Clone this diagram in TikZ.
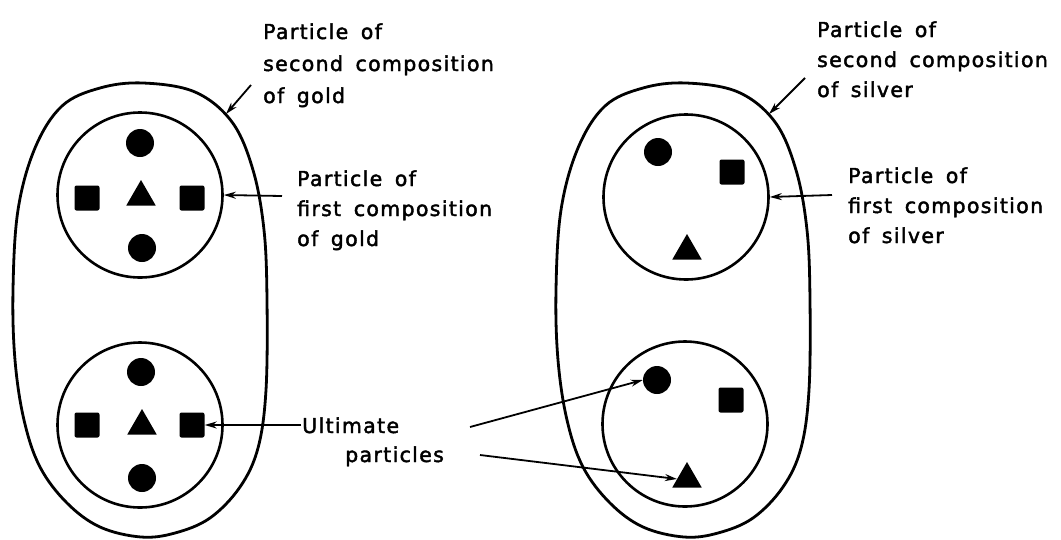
\documentclass[tikz,border=0pt]{standalone}
\usepackage{fontspec}
\setmainfont{DejaVu Sans}[LetterSpace=6.5,FakeBold=2,WordSpace=1.6]
\usetikzlibrary{shapes.geometric,arrows.meta}
\begin{document}
\begin{tikzpicture}[x=1pt,y=-1pt,
  outline/.style={line width=2.8pt},
  dot/.style={circle,fill,inner sep=0pt,minimum size=28pt},
  sq/.style={rectangle,fill,inner sep=0pt,minimum size=25pt,rounded corners=2pt},
  tri/.style={regular polygon,regular polygon sides=3,fill,inner sep=0pt,minimum size=34pt},
  ring/.style={circle,draw,line width=2.6pt,inner sep=0pt,minimum size=165pt},
  arr/.style={line width=1.8pt,-{Stealth[length=12pt,width=7pt]}},
  lab/.style={align=left,anchor=base west,inner sep=0pt,font=\fontsize{20.5}{30}\selectfont}]
\useasboundingbox (0,0) rectangle (1061,539);
% left outer particle (second composition of gold)
\draw[outline] plot[smooth cycle, tension=0.6] coordinates {(143,83) (195,92) (232,122) (253,170) (264,230) (267,300) (266,390) (258,448) (240,487) (210,518) (175,533) (141,537) (100,527) (67,503) (40,467) (24,420) (15,360) (13,290) (18,210) (35,148) (62,106) (100,88)};
% right outer particle (second composition of silver)
\begin{scope}[xshift=543pt]
\draw[outline] plot[smooth cycle, tension=0.6] coordinates {(143,83) (195,92) (232,122) (253,170) (264,230) (267,300) (266,390) (258,448) (240,487) (210,518) (175,533) (141,537) (100,527) (67,503) (40,467) (24,420) (15,360) (13,290) (18,210) (35,148) (62,106) (100,88)};
\end{scope}
% inner rings
\node[ring] (L1) at (140,195) {};
\node[ring] (L2) at (140,425) {};
\node[ring] (R1) at (686,197) {};
\node[ring] (R2) at (685,424) {};
% ultimate particles, left top
\node[dot] (L1d1) at (140,143) {};
\node[sq]  (L1s1) at (87,198) {};
\node[tri] (L1t)  at (141,197) {};
\node[sq]  (L1s2) at (192,198) {};
\node[dot] (L1d2) at (142,248) {};
% left bottom
\node[dot] (L2d1) at (141,372) {};
\node[sq]  (L2s1) at (87,425) {};
\node[tri] (L2t)  at (142,426) {};
\node[sq]  (L2s2) at (192,425) {};
\node[dot] (L2d2) at (142,478) {};
% right top
\node[dot] (R1d) at (658,152) {};
\node[sq]  (R1s) at (732,172) {};
\node[tri] (R1t) at (687,251) {};
% right bottom
\node[dot] (R2d) at (657,380) {};
\node[sq]  (R2s) at (731,400) {};
\node[tri] (R2t) at (687,479) {};
% labels (anchored at the baseline of the last line)
\node[lab,font=\fontsize{20.5}{32}\selectfont] (lg2) at (263,103) {Particle of\\second composition\\of gold};
\node[lab] (lg1) at (297,246) {Particle of\\first composition\\of gold};
\node[lab] (ls2) at (817,97) {Particle of\\second composition\\of silver};
\node[lab] (ls1) at (848,243) {Particle of\\first composition\\of silver};
\node[lab,font=\fontsize{20.5}{29}\selectfont] (ult) at (302,462) {Ultimate\\\hspace*{43pt}particles};
% connectors
\coordinate (oL) at (226,114);
\coordinate (oR) at (769,114);
\coordinate (sL) at (251,85);
\coordinate (sR) at (805,78);
\coordinate (fL) at (282,196);
\coordinate (fR) at (832,195);
\coordinate (uL) at (301,425);
\coordinate (u1) at (470,427);
\coordinate (u2) at (480,455);
\draw[arr] (sL) -- (oL);
\draw[arr] (sR) -- (oR);
\draw[arr] (fL) -- (L1.east);
\draw[arr] (fR) -- (R1.east);
\draw[arr] (uL) -- (L2s2.east);
\draw[arr] (u1) -- (R2d.west);
\draw[arr] (u2) -- (R2t.west);
\end{tikzpicture}
\end{document}
